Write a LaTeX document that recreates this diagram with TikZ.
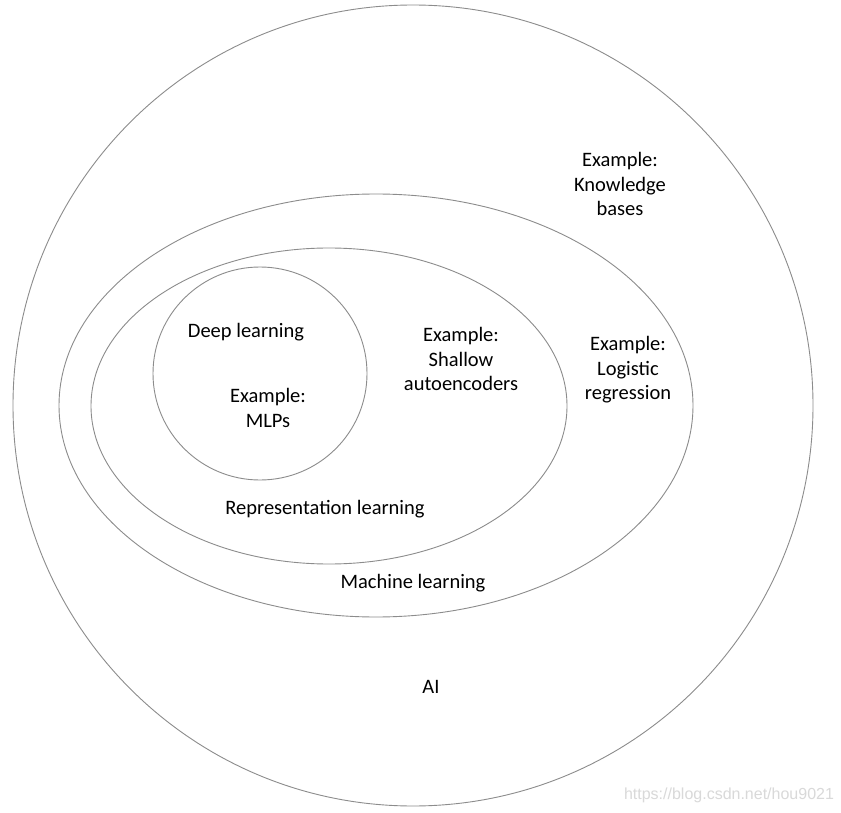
\documentclass[tikz,border=0pt]{standalone}
\usepackage{fontspec}
\setmainfont{Carlito}
\newfontfamily\markfont{Liberation Sans}
\begin{document}
\begin{tikzpicture}[x=1pt,y=-1pt,
  ring/.style={draw=black!45,line width=0.9pt},
  lbl/.style={align=center,inner sep=0pt,text=black,
    font=\fontsize{20.5pt}{24.5pt}\selectfont}]
\useasboundingbox (0,0) rectangle (841,813);
\fill[white] (0,0) rectangle (841,813);

\draw[ring] (413,405.5) ellipse [x radius=400,y radius=400.5];
\draw[ring] (376,405.5) ellipse [x radius=317,y radius=211.5];
\draw[ring] (329,406) ellipse [x radius=238,y radius=158];
\draw[ring] (260,373.5) ellipse [x radius=107,y radius=106.5];

\node[lbl] (kb) at (620,184) {Example:\\Knowledge\\bases};
\node[lbl] (deep) at (246,332) {Deep learning};
\node[lbl] (mlp) at (268,408) {Example:\\MLPs};
\node[lbl] (shallow) at (461,359) {Example:\\Shallow\\autoencoders};
\node[lbl] (logit) at (628,370) {Example:\\Logistic\\regression};
\node[lbl] (rep) at (325,509) {Representation learning};
\node[lbl] (ml) at (413,583) {Machine learning};
\node[lbl] (ai) at (431,687) {AI};

%\node (url) at (729,795) {};
\node[inner sep=0pt,text=black!15,font=\markfont\fontsize{16pt}{18pt}\selectfont]
  (url) at (729,795) {https://blog.csdn.net/hou9021};
\end{tikzpicture}
\end{document}
